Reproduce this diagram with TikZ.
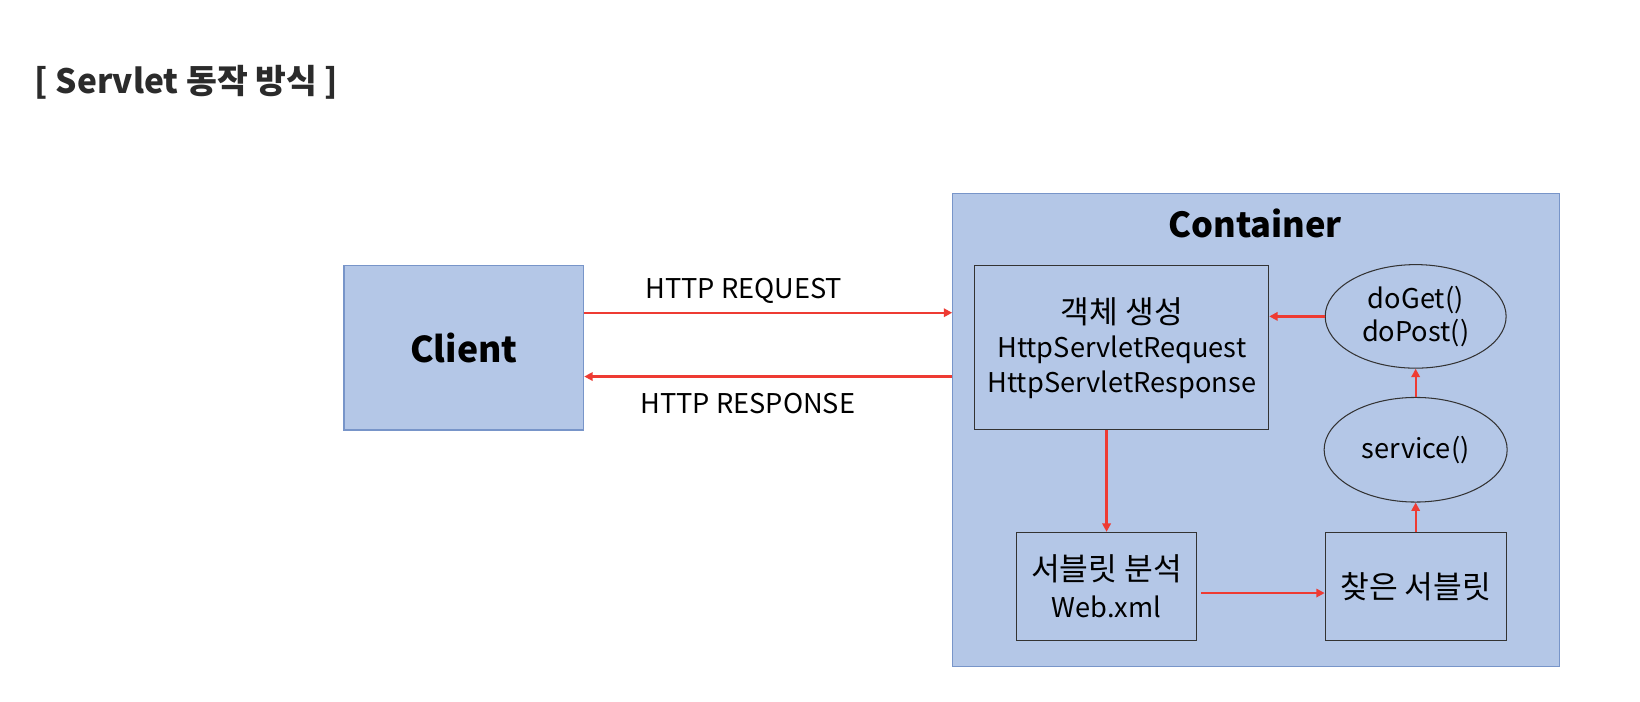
\documentclass[tikz,border=0pt]{standalone}
\usepackage{fontspec}
\setmainfont{Noto Sans CJK KR}
\newfontfamily\krbig[Scale=1.15]{Noto Sans CJK KR}
\usetikzlibrary{arrows.meta,shapes.geometric}
\definecolor{boxblue}{HTML}{B4C7E7}
\definecolor{edgeblue}{HTML}{7895C9}
\definecolor{arrred}{HTML}{EE3B33}
\definecolor{titlegray}{HTML}{2B2B2B}
\begin{document}
\begin{tikzpicture}[x=1pt,y=-1pt,
  bluebox/.style={draw=edgeblue, fill=boxblue, line width=1.2pt, inner sep=0pt},
  inbox/.style={draw=black!80, line width=1pt, inner sep=0pt, align=center, font=\fontsize{26}{33}\selectfont},
  oval/.style={ellipse, draw=black!80, line width=1pt, inner sep=0pt, align=center, font=\fontsize{26}{33}\selectfont},
  redarrow/.style={draw=arrred, line width=2.2pt, -{Triangle[length=8pt,width=8pt]}},
  lbl/.style={font=\fontsize{26}{30}\selectfont, inner sep=0pt}]
\useasboundingbox (0,0) rectangle (1568,671);
\fill[white] (0,0) rectangle (1568,671);
\node[anchor=base west, font=\bfseries\fontsize{32}{38}\selectfont, text=titlegray, inner sep=0pt] (title) at (33,89) {[ Servlet 동작 방식 ]};

\node[bluebox, minimum width=229pt, minimum height=157pt, font=\bfseries\fontsize{34}{40}\selectfont] (client) at (443.5,332.5) {Client};
\node[bluebox, minimum width=580pt, minimum height=452pt] (container) at (1201,411) {};
\node[font=\bfseries\fontsize{33}{38}\selectfont, inner sep=0pt] (ctitle) at (1200,214) {Container};

\node[inbox, minimum width=281pt, minimum height=157pt] (obj) at (1072.5,332.5) {{\krbig 객체 생성}\\HttpServletRequest\\HttpServletResponse};
\node[oval, minimum width=173pt, minimum height=99pt] (doget) at (1353.5,302.5) {doGet()\\[-2pt]doPost()};
\node[oval, minimum width=175pt, minimum height=100pt] (service) at (1353.5,430) {service()};
\node[inbox, minimum width=172pt, minimum height=103pt] (analysis) at (1058,560.5) {{\krbig 서블릿 분석}\\[2pt]Web.xml};
\node[inbox, minimum width=173pt, minimum height=103pt] (found) at (1353.5,560.5) {{\krbig 찾은 서블릿}};

\coordinate (reqL) at ([yshift=33.5pt]client.east);
\coordinate (resL) at ([yshift=-27.5pt]client.east);
\draw[redarrow] (reqL) -- (reqL -| container.west);
\draw[redarrow] (resL -| container.west) -- (resL);
\node[lbl] (reqlbl) at (711,278) {HTTP REQUEST};
\node[lbl] (reslbl) at (715,386) {HTTP RESPONSE};

\draw[redarrow] (doget.west) -- (doget.west -| obj.east);
\draw[redarrow] (analysis.north |- obj.south) -- (analysis.north);
\coordinate (anE) at ([xshift=4pt,yshift=-6.5pt]analysis.east);
\draw[redarrow] (anE) -- (anE -| found.west);
\draw[redarrow] (found.north) -- (service.south);
\draw[redarrow] (service.north) -- (doget.south);
\end{tikzpicture}
\end{document}
